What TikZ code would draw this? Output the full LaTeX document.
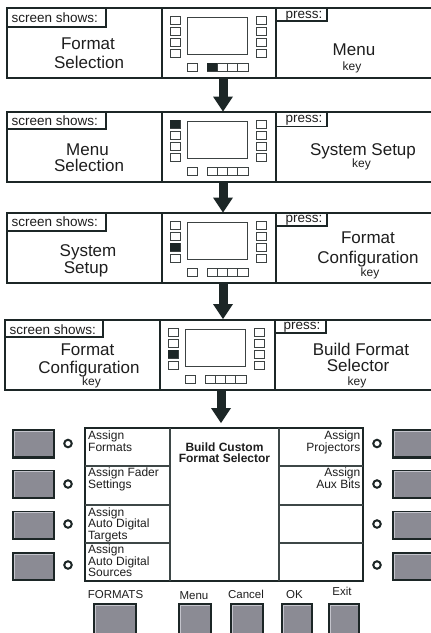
\documentclass[tikz,border=0pt]{standalone}
\usepackage{fontspec}
\setmainfont{Liberation Sans}
\definecolor{ink}{RGB}{28,38,38}
\definecolor{sqc}{RGB}{60,66,66}
\definecolor{btn}{RGB}{139,139,148}
\definecolor{btnhl}{RGB}{196,196,204}
\definecolor{txt}{RGB}{30,30,30}
\newcommand\minidev[3]{%
\begin{scope}[shift={(#1,#2)}]
  \draw[scr] (187,9) rectangle (247,46);
  \foreach \k in {0,1,2,3} {
    \draw[sqr] (170,8+11*\k) rectangle ++(10,8);
    \draw[sqr] (256,8+11*\k) rectangle ++(10,8);
  }
  \draw[sqr] (187,55) rectangle ++(10,8);
  \foreach \k in {0,1,2,3} {\draw[sqr] (207+10.25*\k,55) rectangle ++(10.25,8);}
  #3
\end{scope}}
\newcommand\flowarrow[2]{%
  \draw[ink,line width=9pt] (#1) -- ([yshift=14pt]#2);
  \fill[ink] (#2) -- ([xshift=-10pt,yshift=15pt]#2) -- ([xshift=10pt,yshift=15pt]#2) -- cycle;}
\newcommand\panelframe[4]{% left, top, div1, div2
  \draw[frame] (#1,#2) rectangle (450,#2+70);
  \draw[frame] (#3,#2) -- (#3,#2+70);
  \draw[frame] (#4,#2) -- (#4,#2+70);}
\begin{document}
\begin{tikzpicture}[x=1pt,y=-1pt,
  every node/.style={inner sep=0pt,text=txt},
  frame/.style={draw=ink,line width=1.6pt},
  lblbox/.style={draw=ink,line width=1.1pt},
  scr/.style={draw=sqc,line width=1pt},
  sqr/.style={draw=sqc,line width=0.8pt,fill=white},
  big/.style={font=\fontsize{17}{19}\selectfont,anchor=base},
  small/.style={font=\fontsize{13.5}{15}\selectfont},
  keyf/.style={font=\fontsize{12}{12}\selectfont,anchor=base},
  disp/.style={font=\fontsize{12}{12}\selectfont},
  dispb/.style={font=\bfseries\fontsize{12}{12}\selectfont,anchor=base},
  lbl/.style={font=\fontsize{11.5}{12}\selectfont,anchor=base},
  sidebtn/.style={draw=ink,fill=btn,line width=2.4pt,minimum width=40.5pt,minimum height=27pt},
  botbtn/.style={draw=ink,fill=btn,line width=2.4pt,minimum height=40pt},
  led/.style={circle,draw=ink,line width=2pt,minimum size=7.5pt},
  hl/.style={draw=btnhl,line width=1pt}]
\useasboundingbox (0,0) rectangle (431,633);
\clip (0,0) rectangle (431,633);
\fill[white] (0,0) rectangle (431,633);

% ---------- panel 1 ----------
\panelframe{7}{8}{162}{276}
\draw[lblbox] (7,8) rectangle (106,27);
\draw[lblbox] (276,8) rectangle (327,21);
\node[small,anchor=base west] (ss1) at (11.5,22) {screen shows:};
\node[small,anchor=base] (pr1) at (304,18.5) {press:};
\minidev{0}{8}{\fill[ink] (207,55) rectangle ++(10.25,8);}
\node[big] (l1a) at (88,49) {Format};
\node[big] (l1b) at (89,68.3) {Selection};
\node[big] (r1a) at (354,55) {Menu};
\node[keyf] (r1b) at (352,70.5) {key};

% ---------- panel 2 ----------
\panelframe{7}{112}{162}{276}
\draw[lblbox] (7,112) rectangle (106,129);
\draw[lblbox] (276,112) rectangle (327,126.5);
\node[small,anchor=base west] (ss2) at (11.5,125.5) {screen shows:};
\node[small,anchor=base] (pr2) at (304,122.5) {press:};
\minidev{0}{112}{\fill[ink] (170,8) rectangle ++(10,8);}
\node[big] (l2a) at (87.5,155) {Menu};
\node[big] (l2b) at (89,171.7) {Selection};
\node[big] (r2a) at (363,155) {System Setup};
\node[keyf] (r2b) at (361.5,167) {key};

% ---------- panel 3 ----------
\panelframe{7}{213}{162}{276}
\draw[lblbox] (7,213) rectangle (106,231);
\draw[lblbox] (276,213) rectangle (327,226);
\node[small,anchor=base west] (ss3) at (11.5,226.5) {screen shows:};
\node[small,anchor=base] (pr3) at (304,222.5) {press:};
\minidev{0}{213}{\fill[ink] (170,30) rectangle ++(10,8);}
\node[big] (l3a) at (88,256.7) {System};
\node[big] (l3b) at (86,273) {Setup};
\node[big] (r3a) at (368,243.3) {Format};
\node[big] (r3b) at (368,263) {Configuration};
\node[keyf] (r3c) at (370,276) {key};

% ---------- panel 4 ----------
\panelframe{5}{320}{160}{275}
\draw[lblbox] (5,320) rectangle (103,337);
\draw[lblbox] (275,320) rectangle (326,333);
\node[small,anchor=base west] (ss4) at (9.5,334) {screen shows:};
\node[small,anchor=base] (pr4) at (302,329.5) {press:};
\minidev{-2}{320}{\fill[ink] (170,30) rectangle ++(10,8);}
\node[big] (l4a) at (87.5,355) {Format};
\node[big] (l4b) at (89,373) {Configuration};
\node[keyf] (l4c) at (91.5,385.5) {key};
\node[big] (r4a) at (361,355) {Build Format};
\node[big] (r4b) at (358,371) {Selector};
\node[keyf] (r4c) at (357,385) {key};

% ---------- arrows ----------
\coordinate (a1s) at (223,79);  \coordinate (a1e) at (223,111.5);
\coordinate (a2s) at (223,182); \coordinate (a2e) at (223,212.5);
\coordinate (a3s) at (223,283); \coordinate (a3e) at (223,319);
\coordinate (a4s) at (221,390); \coordinate (a4e) at (221,423);
\flowarrow{a1s}{a1e}
\flowarrow{a2s}{a2e}
\flowarrow{a3s}{a3e}
\flowarrow{a4s}{a4e}

% ---------- display ----------
\draw[ink,line width=1.2pt] (85,428) rectangle (363,581);
\draw[ink,line width=2.4pt] (363,427.4) -- (363,581) -- (84.4,581);
\draw[ink!85,line width=1.3pt] (170,428) -- (170,581);
\draw[ink!85,line width=1.3pt] (279,428) -- (279,581);
\foreach \yy in {466,505,543} {
  \draw[ink!85,line width=1.3pt] (85,\yy) -- (170,\yy);
  \draw[ink!85,line width=1.3pt] (279,\yy) -- (363,\yy);
}
\node[disp,anchor=base west] (d1a) at (88,439.5) {Assign};
\node[disp,anchor=base west] (d1b) at (88,451) {Formats};
\node[disp,anchor=base west] (d2a) at (88,476.5) {Assign Fader};
\node[disp,anchor=base west] (d2b) at (88,488) {Settings};
\node[disp,anchor=base west] (d3a) at (88,516) {Assign};
\node[disp,anchor=base west] (d3b) at (88,527.5) {Auto Digital};
\node[disp,anchor=base west] (d3c) at (88,539) {Targets};
\node[disp,anchor=base west] (d4a) at (88,553.5) {Assign};
\node[disp,anchor=base west] (d4b) at (88,565) {Auto Digital};
\node[disp,anchor=base west] (d4c) at (88,576.5) {Sources};
\node[disp,anchor=base east] (e1a) at (360.5,439.5) {Assign};
\node[disp,anchor=base east] (e1b) at (360.5,451) {Projectors};
\node[disp,anchor=base east] (e2a) at (360.5,476.5) {Assign};
\node[disp,anchor=base east] (e2b) at (360.5,488) {Aux Bits};
\node[dispb] (t1) at (224.5,451) {Build Custom};
\node[dispb] (t2) at (224.5,462) {Format Selector};

% side buttons and LEDs
\foreach \i/\yy/\ly in {1/443.8/443.5,2/484.3/484,3/525.3/524,4/566.5/565} {
  \node[sidebtn] (lb\i) at (33.5,\yy) {};
  \draw[hl] ([xshift=2.2pt,yshift=2.2pt]lb\i.south west) |- ([xshift=-2.2pt,yshift=-2.2pt]lb\i.north east);
  \node[led] (ll\i) at (68,\ly) {};
  \node[sidebtn] (rb\i) at (413.5,\yy) {};
  \draw[hl] ([xshift=2.2pt,yshift=2.2pt]rb\i.south west) |- ([xshift=-2.2pt,yshift=-2.2pt]rb\i.north east);
  \node[led] (rl\i) at (377,\ly) {};
}

% bottom buttons
\node[botbtn,minimum width=41.5pt] (bf) at (115,624) {};
\node[botbtn,minimum width=31.5pt] (bm) at (195,624) {};
\node[botbtn,minimum width=31.5pt] (bc) at (247,624) {};
\node[botbtn,minimum width=29.5pt] (bo) at (297,624) {};
\node[botbtn,minimum width=29.5pt] (be) at (344,624) {};
\foreach \b in {bf,bm,bc,bo,be} {
  \draw[hl] ([xshift=2.2pt,yshift=2.2pt]\b.south west) |- ([xshift=-2.2pt,yshift=-2.2pt]\b.north east);
}
\node[lbl] (lf) at (115.5,598) {FORMATS};
\node[lbl] (lm) at (194,599) {Menu};
\node[lbl] (lc) at (246,598) {Cancel};
\node[lbl] (lo) at (294.5,598) {OK};
\node[lbl] (le) at (342,595.5) {Exit};
\end{tikzpicture}
\end{document}
